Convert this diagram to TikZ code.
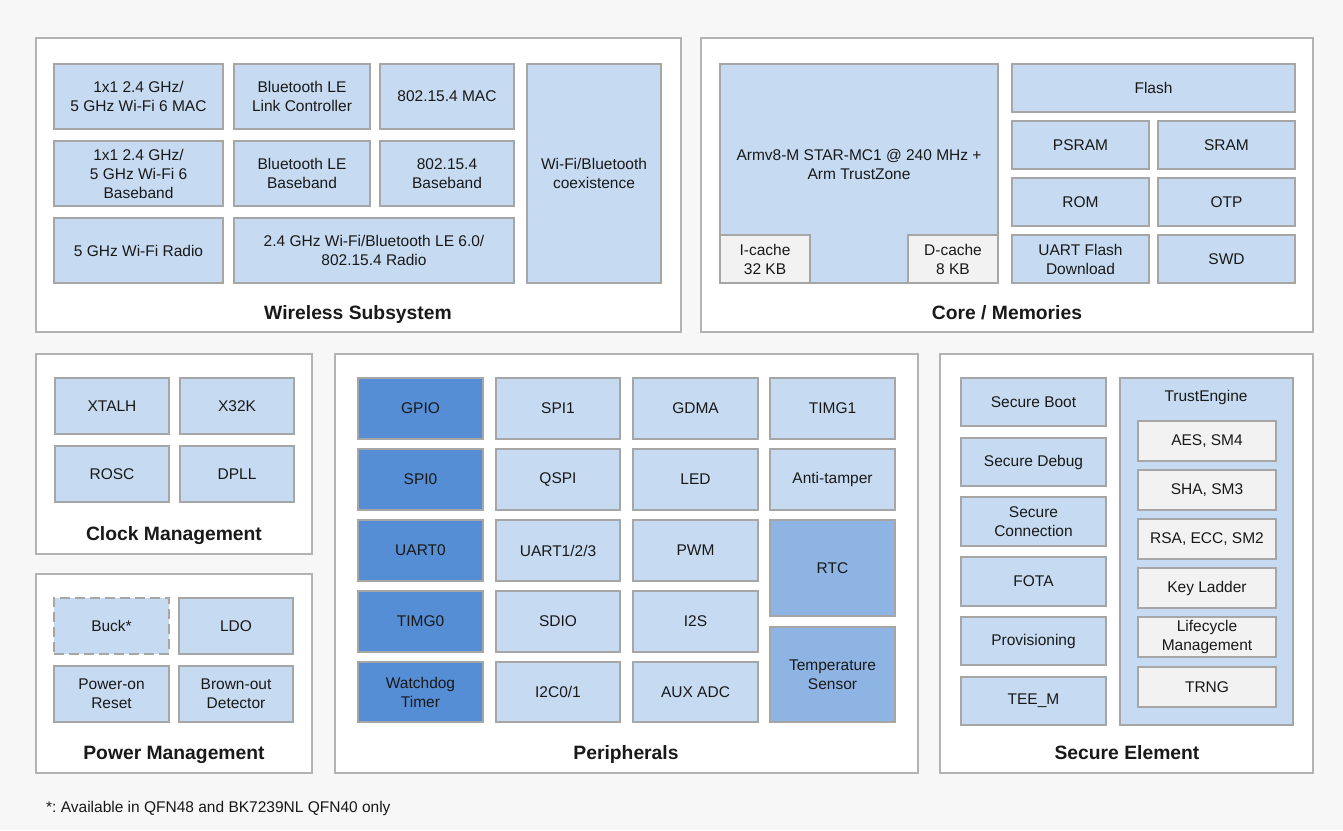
\documentclass[tikz,border=0pt]{standalone}
\usepackage{fontspec}
\setmainfont{Liberation Sans}
\frenchspacing
\definecolor{bgc}{HTML}{F7F7F7}
\definecolor{panelline}{HTML}{B3B3B3}
\definecolor{boxfill}{HTML}{C6DBF1}
\definecolor{boxline}{HTML}{A6A6A6}
\definecolor{darkfill}{HTML}{558ED5}
\definecolor{midfill}{HTML}{8EB4E3}
\definecolor{grayfill}{HTML}{F2F2F2}
\tikzset{
  panel/.style={draw=panelline, fill=white, line width=1.5pt, inner sep=0pt},
  box/.style={draw=boxline, fill=boxfill, line width=1.6pt, inner sep=0pt, align=center,
    font=\fontsize{15.5}{19}\selectfont\frenchspacing, text=black!90},
  darkbox/.style={box, fill=darkfill},
  midbox/.style={box, fill=midfill},
  graybox/.style={box, fill=grayfill},
  dashbox/.style={box, dash pattern=on 10pt off 5pt},
  paneltitle/.style={font=\fontsize{19.3}{22}\bfseries, text=black!90, inner sep=0pt, anchor=base},
  plain/.style={font=\fontsize{15.5}{19}\selectfont\frenchspacing, text=black!90, inner sep=0pt, align=center}
}
% #1 style, #2 name, #3 x1, #4 y1, #5 x2, #6 y2, #7 text
\newcommand\blk[7][box]{\node[#1, minimum width={#5-#3}, minimum height={#6-#4}] (#2) at ({(#3+#5)/2},{(#4+#6)/2}) {#7};}
\newcommand\pnl[5]{\node[panel, minimum width={#4-#2}, minimum height={#5-#3}] (#1) at ({(#2+#4)/2},{(#3+#5)/2}) {};}
\begin{document}
\begin{tikzpicture}[x=1pt,y=-1pt]
\path[fill=bgc] (0,0) rectangle (1343,830);
\useasboundingbox (0,0) rectangle (1343,830);
% panels
\pnl{wireless}{36}{38}{681}{332}
\pnl{core}{701}{38}{1313}{332}
\pnl{clock}{36}{354}{312}{554}
\pnl{power}{36}{574}{312}{773}
\pnl{periph}{335}{354}{918}{773}
\pnl{secure}{940}{354}{1313}{773}
% Wireless subsystem
\blk{wmac}{54}{64}{223}{129}{1x1 2.4 GHz/\\5 GHz Wi-Fi 6 MAC}
\blk{blelc}{234}{64}{370}{129}{Bluetooth LE\\Link Controller}
\blk{zmac}{380}{64}{514}{129}{802.15.4 MAC}
\blk{wbb}{54}{141}{223}{206}{1x1 2.4 GHz/\\5 GHz Wi-Fi 6\\Baseband}
\blk{blebb}{234}{141}{370}{206}{Bluetooth LE\\Baseband}
\blk{zbb}{380}{141}{514}{206}{802.15.4\\Baseband}
\blk{w5radio}{54}{218}{223}{283}{5 GHz Wi-Fi Radio}
\blk{radio24}{234}{218}{514}{283}{2.4 GHz Wi-Fi/Bluetooth LE 6.0/\\802.15.4 Radio}
\blk{coex}{527}{64}{661}{283}{Wi-Fi/Bluetooth\\coexistence}
\node[paneltitle] (wtitle) at (358,319) {Wireless Subsystem};
% Core / Memories
\blk{cpu}{720}{64}{998}{283}{}
\node[plain] (cputext) at (859,164) {Armv8-M STAR-MC1 @ 240 MHz +\\Arm TrustZone};
\blk[graybox]{icache}{720}{235}{810}{283}{I-cache\\32 KB}
\blk[graybox]{dcache}{908}{235}{998}{283}{D-cache\\8 KB}
\blk{flash}{1012}{64}{1295}{112}{Flash}
\blk{psram}{1012}{121}{1149}{169}{PSRAM}
\blk{sram}{1158}{121}{1295}{169}{SRAM}
\blk{rom}{1012}{178}{1149}{226}{ROM}
\blk{otp}{1158}{178}{1295}{226}{OTP}
\blk{uartdl}{1012}{235}{1149}{283}{UART Flash\\Download}
\blk{swd}{1158}{235}{1295}{283}{SWD}
\node[paneltitle] (ctitle) at (1007,319) {Core / Memories};
% Clock management
\blk{xtalh}{55}{378}{169}{434}{XTALH}
\blk{x32k}{180}{378}{294}{434}{X32K}
\blk{rosc}{55}{446}{169}{502}{ROSC}
\blk{dpll}{180}{446}{294}{502}{DPLL}
\node[paneltitle] (cktitle) at (174,540) {Clock Management};
% Power management
\blk[dashbox]{buck}{54}{598}{169}{654}{Buck*}
\blk{ldo}{179}{598}{293}{654}{LDO}
\blk{por}{54}{666}{169}{722}{Power-on\\Reset}
\blk{bod}{179}{666}{293}{722}{Brown-out\\Detector}
\node[paneltitle] (ptitle) at (174,759) {Power Management};
% Peripherals
\blk[darkbox]{gpio}{358}{378}{483}{439}{GPIO}
\blk[darkbox]{spi0}{358}{449}{483}{510}{SPI0}
\blk[darkbox]{uart0}{358}{520}{483}{581}{UART0}
\blk[darkbox]{timg0}{358}{591}{483}{652}{TIMG0}
\blk[darkbox]{wdt}{358}{662}{483}{722}{Watchdog\\Timer}
\blk{spi1}{496}{378}{620}{439}{SPI1}
\blk{qspi}{496}{449}{620}{510}{QSPI}
\blk{uart123}{496}{520}{620}{581}{UART1/2/3}
\blk{sdio}{496}{591}{620}{652}{SDIO}
\blk{i2c}{496}{662}{620}{722}{I2C0/1}
\blk{gdma}{633}{378}{758}{439}{GDMA}
\blk{led}{633}{449}{758}{510}{LED}
\blk{pwm}{633}{520}{758}{581}{PWM}
\blk{i2s}{633}{591}{758}{652}{I2S}
\blk{auxadc}{633}{662}{758}{722}{AUX ADC}
\blk{timg1}{770}{378}{895}{439}{TIMG1}
\blk{antitamper}{770}{449}{895}{510}{Anti-tamper}
\blk[midbox]{rtc}{770}{520}{895}{616}{RTC}
\blk[midbox]{temp}{770}{627}{895}{722}{Temperature\\Sensor}
\node[paneltitle] (pertitle) at (626,759) {Peripherals};
% Secure element
\blk{sboot}{961}{378}{1106}{426}{Secure Boot}
\blk{sdebug}{961}{438}{1106}{486}{Secure Debug}
\blk{sconn}{961}{497}{1106}{546}{Secure\\Connection}
\blk{fota}{961}{557}{1106}{606}{FOTA}
\blk{prov}{961}{617}{1106}{665}{Provisioning}
\blk{teem}{961}{677}{1106}{725}{TEE\_M}
\blk{trust}{1120}{378}{1293}{725}{}
\node[plain] (trusttext) at (1206,397) {TrustEngine};
\blk[graybox]{aes}{1138}{421}{1276}{461}{AES, SM4}
\blk[graybox]{sha}{1138}{470}{1276}{510}{SHA, SM3}
\blk[graybox]{rsa}{1138}{519}{1276}{559}{RSA, ECC, SM2}
\blk[graybox]{keyl}{1138}{568}{1276}{608}{Key Ladder}
\blk[graybox]{life}{1138}{617}{1276}{657}{Lifecycle\\Management}
\blk[graybox]{trng}{1138}{667}{1276}{707}{TRNG}
\node[paneltitle] (stitle) at (1127,759) {Secure Element};
% footnote
\node[plain, anchor=west] (foot) at (46,808) {*: Available in QFN48 and BK7239NL QFN40 only};
\end{tikzpicture}
\end{document}
